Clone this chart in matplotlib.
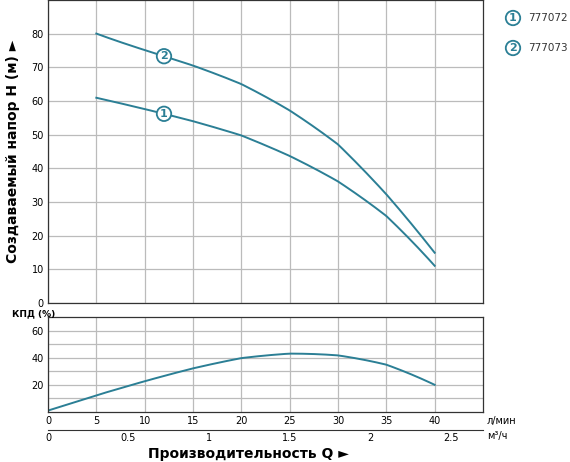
import matplotlib
matplotlib.use("Agg")
import matplotlib.pyplot as plt
import numpy as np

q_head = [5, 10, 15, 20, 25, 30, 35, 40]
head_777072 = [61, 57.5, 54, 50, 43.5, 36, 26, 11]
head_777073 = [80, 75.2, 70.5, 65, 57, 47.5, 32, 15]
q_eff = [0, 5, 10, 15, 20, 25, 30, 35, 40]
eff = [1, 12.5, 22.5, 32, 40, 43, 41.5, 35, 20]
models = ["777072", "777073"]

C = "#2b7f95"
GC = "#bbbbbb"

def smooth(x, y):
    x = np.asarray(x, float); y = np.asarray(y, float)
    xs = np.linspace(x[0], x[-1], 200)
    coeff = np.polyfit(x, y, min(4, len(x) - 1))
    # blend polynomial fit with linear interpolation to stay close to points
    return xs, 0.5 * np.polyval(coeff, xs) + 0.5 * np.interp(xs, x, y)

fig = plt.figure(figsize=(5.7, 4.62), dpi=100)
W, H = 570, 462
ax1 = fig.add_axes([48 / W, 1 - 303 / H, 435 / W, 303 / H])
ax2 = fig.add_axes([48 / W, 1 - 412 / H, 435 / W, 95 / H])

for ax in (ax1, ax2):
    ax.set_xlim(0, 45)
    ax.set_xticks(range(0, 45, 5))
    ax.grid(True, color=GC, lw=0.9)
    ax.set_axisbelow(True)
    ax.tick_params(length=0, labelsize=7, pad=3)
    for s in ax.spines.values():
        s.set_color("#333333"); s.set_linewidth(0.9)

ax1.set_ylim(0, 90)
ax1.set_yticks(range(0, 90, 10))
ax1.set_xticklabels([])
for ys, lab, lx in [(head_777072, "1", 12), (head_777073, "2", 12)]:
    xs, yv = smooth(q_head, ys)
    ax1.plot(xs, yv, color=C, lw=1.4)
    ly = np.interp(lx, xs, yv)
    ax1.text(lx, ly, lab, color=C, fontsize=8, fontweight="bold", ha="center", va="center",
             bbox=dict(boxstyle="circle,pad=0.2", fc="white", ec=C, lw=1.3))
ax1.set_ylabel("Создаваемый напор H (м) ►", fontsize=10, fontweight="bold", labelpad=8)

ax2.set_ylim(0, 70)
ax2.set_yticks([20, 40, 60])
ax2.set_yticks([10, 30, 50], minor=True)
ax2.grid(True, which="minor", axis="y", color=GC, lw=0.9)
ax2.tick_params(which="minor", length=0)
xs, yv = smooth(q_eff, eff)
ax2.plot(xs, yv, color=C, lw=1.4)
fig.text(12 / W, 1 - 314 / H, "КПД (%)", fontsize=6.5, fontweight="bold", va="center")
fig.text(487 / W, 1 - 421 / H, "л/мин", fontsize=7, va="center")

ax3 = fig.add_axes([48 / W, 1 - 430 / H, 435 / W, 0.0001])
ax3.set_xlim(0, 45 * 0.06)
ax3.set_xticks([0, 0.5, 1, 1.5, 2, 2.5])
ax3.set_xticklabels(["0", "0.5", "1", "1.5", "2", "2.5"])
ax3.set_yticks([])
for k in ("left", "right", "bottom"):
    ax3.spines[k].set_visible(False)
ax3.spines["top"].set_color("#333333")
ax3.tick_params(length=0, labelsize=7, pad=2)
fig.text(487 / W, 1 - 436 / H, "м³/ч", fontsize=7, va="center")
fig.text(248 / W, 1 - 454 / H, "Производительность Q ►", fontsize=10, fontweight="bold",
         ha="center", va="center")

for i, m in enumerate(models):
    y = 1 - (18 + 30 * i) / H
    fig.text(513 / W, y, str(i + 1), color=C, fontsize=8, fontweight="bold", ha="center", va="center",
             bbox=dict(boxstyle="circle,pad=0.2", fc="white", ec=C, lw=1.3))
    fig.text(528 / W, y, m, fontsize=7.5, va="center", color="#333333")

fig.savefig("out.png", dpi=100)
